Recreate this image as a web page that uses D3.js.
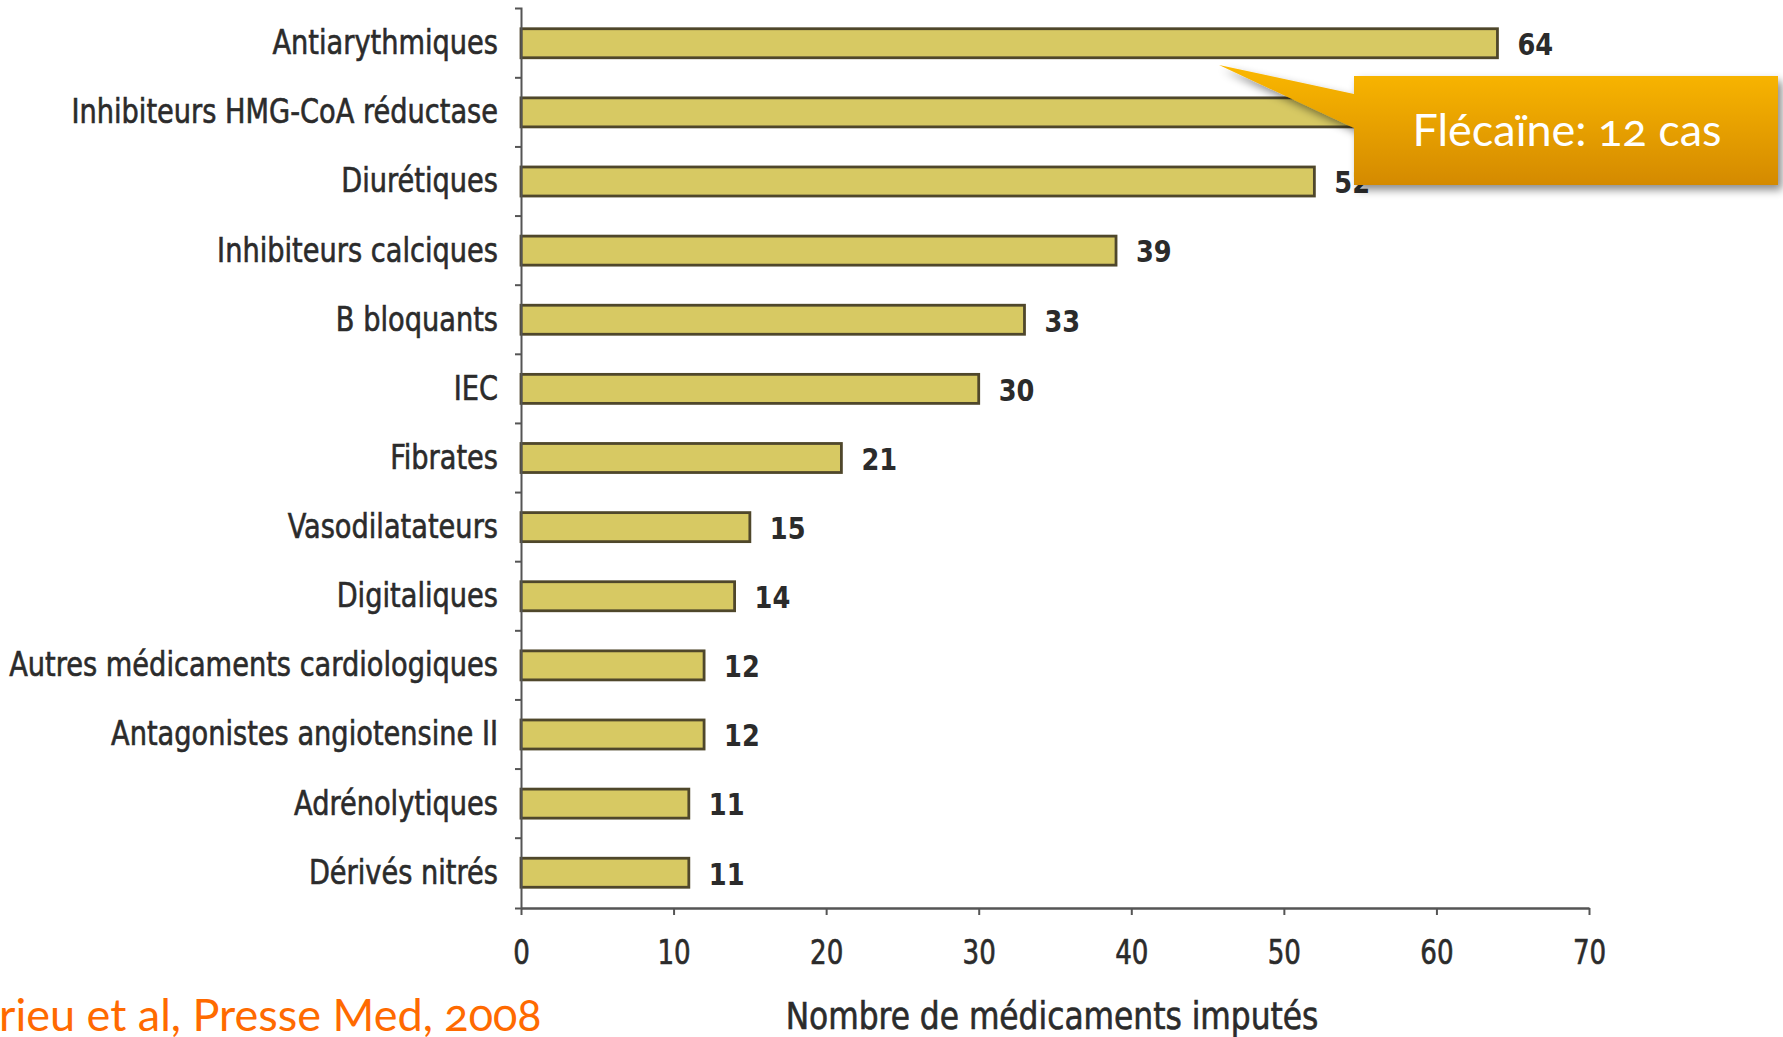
<!DOCTYPE html>
<html>
<head>
<meta charset="utf-8">
<script src="https://cdn.jsdelivr.net/npm/d3@7"></script>
<style>
  html, body { margin: 0; padding: 0; background: #ffffff; overflow: hidden; }
  svg { display: block; }
</style>
</head>
<body>
<script>
// Classes of cardiovascular drugs and the number of drugs imputed for each
const categories = [
  "Antiarythmiques",
  "Inhibiteurs HMG-CoA réductase",
  "Diurétiques",
  "Inhibiteurs calciques",
  "B bloquants",
  "IEC",
  "Fibrates",
  "Vasodilatateurs",
  "Digitaliques",
  "Autres médicaments cardiologiques",
  "Antagonistes angiotensine II",
  "Adrénolytiques",
  "Dérivés nitrés"
];
const values = [64, 57, 52, 39, 33, 30, 21, 15, 14, 12, 12, 11, 11];
const xTicks = [0, 10, 20, 30, 40, 50, 60, 70];
const xTitle = "Nombre de médicaments imputés";
const calloutText = "Flécaïne: 12 cas";
const sourceText = "rieu et al, Presse Med, 2008";

const W = 1783, H = 1037;
const svg = d3.select("body").append("svg").attr("width", W).attr("height", H);

const defs = svg.append("defs");
const grad = defs.append("linearGradient").attr("id", "calloutFill")
  .attr("x1", 0).attr("y1", 0).attr("x2", 0).attr("y2", 1);
grad.append("stop").attr("offset", "0%").attr("stop-color", "#fbb800");
grad.append("stop").attr("offset", "100%").attr("stop-color", "#d48a00");
const shadow = defs.append("filter").attr("id", "calloutShadow")
  .attr("x", "-10%").attr("y", "-20%").attr("width", "130%").attr("height", "150%");
shadow.append("feDropShadow").attr("dx", 4).attr("dy", 5)
  .attr("stdDeviation", 4).attr("flood-color", "#000").attr("flood-opacity", 0.45);

const textColor = "#2b2b2b";
const chartFont = "'DejaVu Sans Condensed', 'DejaVu Sans', sans-serif";

// squeeze a text selection horizontally to give the narrow look of the chart lettering
function condense(sel, factor) {
  sel.each(function () {
    const len = this.getComputedTextLength();
    d3.select(this).attr("textLength", len * factor).attr("lengthAdjust", "spacingAndGlyphs");
  });
}

const x = d3.scaleLinear().domain([0, 70]).range([521, 1589]);
const y = d3.scaleBand().domain(categories).range([8, 908])
  .paddingInner(0.58).paddingOuter(0.3);

const chart = svg.append("g");

// bars
chart.append("g").selectAll("rect")
  .data(categories)
  .join("rect")
  .attr("x", x(0))
  .attr("y", d => y(d))
  .attr("width", (d, i) => x(values[i]) - x(0))
  .attr("height", y.bandwidth())
  .attr("fill", "#d7c963")
  .attr("stroke", "#4f472b")
  .attr("stroke-width", 2.8);

// value labels
const valueLabels = chart.append("g").selectAll("text")
  .data(categories)
  .join("text")
  .attr("x", (d, i) => x(values[i]) + 20)
  .attr("y", d => y(d) + y.bandwidth() / 2)
  .attr("dy", "0.38em")
  .attr("font-family", chartFont)
  .attr("font-size", 31)
  .attr("font-weight", "bold")
  .attr("fill", textColor)
  .text((d, i) => values[i]);
condense(valueLabels, 0.92);

// y axis with category labels
const yAxis = chart.append("g")
  .attr("transform", `translate(${x(0)},0)`)
  .call(d3.axisLeft(y).tickSizeInner(0).tickSizeOuter(6).tickPadding(23));
yAxis.select(".domain").attr("stroke", "#555").attr("stroke-width", 2);
const catLabels = yAxis.selectAll("text")
  .attr("font-family", chartFont)
  .attr("font-size", 34)
  .attr("fill", textColor)
  .attr("stroke", textColor)
  .attr("stroke-width", 0.6);
condense(catLabels, 0.89);

// tick marks between the category bands
const gap = y.step() * y.paddingInner();
chart.append("g").selectAll("line")
  .data(categories.slice(1))
  .join("line")
  .attr("x1", x(0) - 6).attr("x2", x(0))
  .attr("y1", d => y(d) - gap / 2).attr("y2", d => y(d) - gap / 2)
  .attr("stroke", "#555").attr("stroke-width", 2);

// x axis
const xAxis = chart.append("g")
  .attr("transform", "translate(0,908)")
  .call(d3.axisBottom(x).tickValues(xTicks).tickSizeInner(7).tickSizeOuter(0).tickPadding(26));
xAxis.select(".domain").attr("stroke", "#555").attr("stroke-width", 2.5);
xAxis.selectAll(".tick line").attr("stroke", "#555").attr("stroke-width", 2);
const tickLabels = xAxis.selectAll("text")
  .attr("font-family", chartFont)
  .attr("font-size", 33)
  .attr("fill", textColor)
  .attr("stroke", textColor)
  .attr("stroke-width", 0.6);
condense(tickLabels, 0.88);

// x axis title
const title = chart.append("text")
  .attr("x", 1052).attr("y", 1029)
  .attr("text-anchor", "middle")
  .attr("font-family", chartFont)
  .attr("font-size", 37)
  .attr("fill", textColor)
  .attr("stroke", textColor)
  .attr("stroke-width", 0.6)
  .text(xTitle);
condense(title, 0.94);

// callout pointing at the first bar
const callout = svg.append("g").attr("filter", "url(#calloutShadow)");
const bx0 = 1354, by0 = 76, bx1 = 1778, by1 = 185;
const tipX = 1219, tipY = 65;
callout.append("path")
  .attr("d", `M${bx0},${by0} L${bx1},${by0} L${bx1},${by1} L${bx0},${by1} L${bx0},128 L${tipX},${tipY} L${bx0},94 Z`)
  .attr("fill", "url(#calloutFill)");
svg.append("text")
  .attr("x", (bx0 + bx1) / 2 + 1).attr("y", 146)
  .attr("text-anchor", "middle")
  .attr("font-family", "Lato, 'Open Sans', sans-serif")
  .attr("font-size", 45)
  .style("font-variant-numeric", "oldstyle-nums")
  .attr("fill", "#ffffff")
  .text(calloutText);

// source reference
svg.append("text")
  .attr("x", -1).attr("y", 1031)
  .attr("font-family", "Lato, 'Open Sans', sans-serif")
  .attr("font-size", 45)
  .style("font-variant-numeric", "oldstyle-nums")
  .attr("fill", "#ff6a00")
  .text(sourceText);
</script>
</body>
</html>
